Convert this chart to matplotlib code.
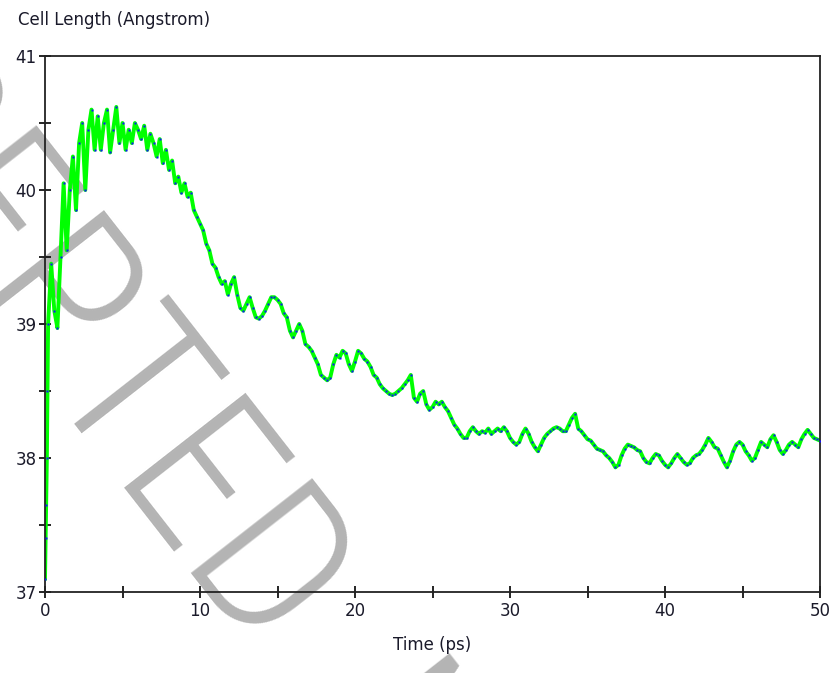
import numpy as np
import matplotlib
matplotlib.use('Agg')
import matplotlib.pyplot as plt
from matplotlib.ticker import MultipleLocator

# Cell length vs time
t_start = [0.0, 0.04, 0.08, 0.12, 0.16]
L_start = [37.1, 37.4, 37.65, 38.0, 38.5]

# from 0.2 ps to 50 ps, every 0.2 ps
L_main = [
    39.0, 39.45, 39.1, 38.97, 39.5, 40.05, 39.55, 40.0, 40.25, 39.85,
    40.35, 40.5, 40.0, 40.45, 40.6, 40.3, 40.55, 40.3, 40.5, 40.6,
    40.28, 40.45, 40.62, 40.35, 40.5, 40.3, 40.45, 40.35, 40.5, 40.45,
    40.38, 40.48, 40.3, 40.42, 40.35, 40.25, 40.38, 40.2, 40.3, 40.15,
    40.22, 40.05, 40.1, 39.98, 40.05, 39.95, 39.98, 39.85, 39.8, 39.75,
    39.7, 39.6, 39.55, 39.45, 39.42, 39.35, 39.3, 39.32, 39.22, 39.3,
    39.35, 39.22, 39.12, 39.1, 39.15, 39.2, 39.12, 39.05, 39.04, 39.06,
    39.1, 39.15, 39.2, 39.2, 39.18, 39.15, 39.08, 39.05, 38.95, 38.9,
    38.95, 39.0, 38.95, 38.85, 38.83, 38.8, 38.75, 38.7, 38.62, 38.6,
    38.58, 38.6, 38.7, 38.77, 38.75, 38.8, 38.78, 38.7, 38.65, 38.72,
    38.8, 38.78, 38.74, 38.72, 38.68, 38.62, 38.6, 38.55, 38.52, 38.5,
    38.48, 38.47, 38.48, 38.5, 38.52, 38.55, 38.58, 38.62, 38.45, 38.42,
    38.48, 38.5, 38.4, 38.36, 38.38, 38.42, 38.4, 38.42, 38.38, 38.35,
    38.3, 38.25, 38.22, 38.18, 38.15, 38.15, 38.2, 38.23, 38.2, 38.18,
    38.2, 38.19, 38.22, 38.18, 38.2, 38.22, 38.2, 38.23, 38.2, 38.15,
    38.12, 38.1, 38.12, 38.18, 38.22, 38.18, 38.12, 38.08, 38.05, 38.1,
    38.15, 38.18, 38.2, 38.22, 38.23, 38.22, 38.2, 38.2, 38.25, 38.3,
    38.33, 38.22, 38.2, 38.17, 38.14, 38.13, 38.1, 38.07, 38.06, 38.05,
    38.02, 38.0, 37.97, 37.93, 37.95, 38.02, 38.07, 38.1, 38.09, 38.08,
    38.06, 38.05, 38.0, 37.97, 37.96, 38.0, 38.03, 38.02, 37.98, 37.95,
    37.93, 37.96, 38.0, 38.03, 38.0, 37.97, 37.95, 37.96, 38.0, 38.02,
    38.03, 38.06, 38.1, 38.15, 38.12, 38.08, 38.07, 38.02, 37.97, 37.93,
    37.98, 38.05, 38.1, 38.12, 38.1, 38.05, 38.02, 37.98, 38.0, 38.06,
    38.12, 38.1, 38.08, 38.14, 38.17, 38.12, 38.06, 38.03, 38.06, 38.1,
    38.12, 38.1, 38.08, 38.14, 38.18, 38.21, 38.18, 38.15, 38.14, 38.13,
]
t_main = np.round(np.arange(1, len(L_main) + 1) * 0.2, 2)

time = np.concatenate([t_start, t_main])
length = np.concatenate([L_start, L_main])

fig = plt.figure(figsize=(8.3, 6.73), dpi=100)
ax = fig.add_axes([45/830, 81/673, 775/830, 536/673])
ax.set_facecolor('none')

# watermark behind the plot
fig.text(-322/830, 1 + 83/673, 'ACCEPTED  MANUSCRIPT', rotation=-52,
         rotation_mode='anchor', ha='left', va='baseline',
         fontsize=157, family=['Roboto Condensed', 'Archivo Narrow'], weight=300,
         color='#b4b4b4', zorder=-5)

ax.plot(time, length, color='#00ff00', lw=2.8, zorder=2)
ax.plot(time, length, ls='none', marker='s', ms=1.8, mec='none', mfc='#1010ff', zorder=3)

ax.set_xlim(0, 50)
ax.set_ylim(37, 41)
ax.xaxis.set_major_locator(MultipleLocator(10))
ax.xaxis.set_minor_locator(MultipleLocator(5))
ax.yaxis.set_major_locator(MultipleLocator(1))
ax.yaxis.set_minor_locator(MultipleLocator(0.5))
ax.tick_params(which='both', direction='inout', length=8, width=1.2, color='black',
               labelsize=12, labelcolor='#1a1a2a', pad=3)
ax.tick_params(axis='y', pad=2)
for s in ax.spines.values():
    s.set_linewidth(1.3)
    s.set_color('#222222')

ax.set_xlabel('Time (ps)', fontsize=12, color='#1a1a2a', labelpad=12)
fig.text(18/830, 1 - 20/673, 'Cell Length (Angstrom)', fontsize=12,
         color='#1a1a2a', ha='left', va='center')

fig.savefig('out.png', dpi=100)
